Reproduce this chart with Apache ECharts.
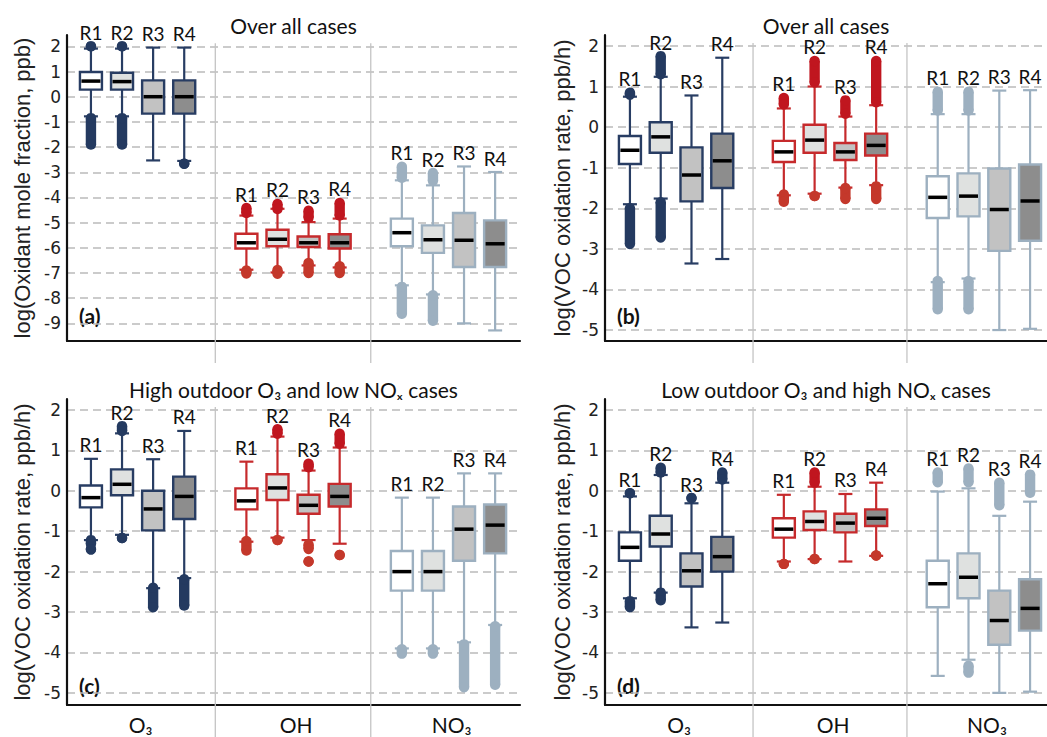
<!DOCTYPE html>
<html>
<head>
<meta charset="utf-8">
<title>Oxidant boxplots</title>
<script src="https://cdn.jsdelivr.net/npm/echarts@6/dist/echarts.min.js"></script>
<style>
  html, body { margin: 0; padding: 0; background: #fff; }
  #chart { width: 1047px; height: 737px; }
</style>
</head>
<body>
<div id="chart"></div>
<script>
// categories
const regimes = ['R1', 'R2', 'R3', 'R4']
const oxidants = ['O\u2083', 'OH', 'NO\u2083']
const yTicks = [-9, -8, -7, -6, -5, -4, -3, -2, -1, 0, 1, 2]

// box rows: [low whisker, Q1, median, Q3, high whisker]
// order: O3 R1..R4, OH R1..R4, NO3 R1..R4
const boxesA = [
  [-0.78, 0.28, 0.62, 0.98, 1.91], [-0.78, 0.28, 0.6, 0.95, 1.91], [-2.53, -0.67, 0, 0.65, 1.95], [-2.55, -0.67, 0, 0.65, 1.95],
  [-6.87, -6.03, -5.8, -5.44, -4.72], [-6.98, -5.94, -5.66, -5.28, -4.45], [-6.7, -5.97, -5.8, -5.55, -4.98], [-6.78, -6.03, -5.8, -5.46, -4.84],
  [-7.49, -5.94, -5.4, -4.84, -3.32], [-7.85, -6.2, -5.68, -5.11, -3.52], [-9.0, -6.76, -5.7, -4.62, -2.77], [-9.28, -6.76, -5.84, -4.91, -2.99]
]
const boxesB = [
  [-1.9, -0.91, -0.57, -0.22, 0.75], [-1.76, -0.63, -0.24, 0.12, 1.24], [-3.36, -1.83, -1.18, -0.5, 0.78], [-3.25, -1.5, -0.83, -0.16, 1.71],
  [-1.68, -0.86, -0.61, -0.34, 0.46], [-1.64, -0.63, -0.32, 0.06, 1.0], [-1.49, -0.81, -0.61, -0.39, 0.26], [-1.43, -0.7, -0.45, -0.16, 0.54],
  [-3.82, -2.24, -1.73, -1.21, 0.32], [-3.73, -2.2, -1.7, -1.14, 0.32], [-5.0, -3.05, -2.03, -1.02, 0.9], [-4.97, -2.8, -1.82, -0.92, 0.91]
]
const boxesC = [
  [-1.22, -0.41, -0.17, 0.13, 0.79], [-1.09, -0.11, 0.16, 0.53, 1.42], [-2.41, -0.98, -0.45, 0.0, 0.78], [-2.16, -0.7, -0.14, 0.35, 1.48],
  [-1.26, -0.46, -0.25, 0.06, 0.72], [-1.16, -0.23, 0.07, 0.41, 1.34], [-1.22, -0.57, -0.36, -0.1, 0.5], [-1.31, -0.39, -0.14, 0.17, 1.07],
  [-3.9, -2.47, -2.0, -1.49, -0.17], [-3.9, -2.47, -2.0, -1.49, -0.17], [-3.75, -1.73, -0.95, -0.39, 0.43], [-3.32, -1.55, -0.85, -0.34, 0.43]
]
const boxesD = [
  [-2.66, -1.73, -1.4, -1.03, -0.14], [-2.52, -1.38, -1.07, -0.62, 0.39], [-3.38, -2.37, -1.98, -1.55, -0.31], [-3.26, -2.0, -1.63, -1.14, 0.2],
  [-1.75, -1.16, -0.95, -0.68, -0.1], [-1.69, -0.97, -0.76, -0.51, 0.1], [-1.75, -1.03, -0.8, -0.57, -0.08], [-1.61, -0.87, -0.68, -0.46, 0.2],
  [-4.58, -2.88, -2.3, -1.73, -0.02], [-4.18, -2.66, -2.14, -1.55, 0.06], [-5.0, -3.81, -3.21, -2.47, -0.62], [-4.97, -3.46, -2.91, -2.19, -0.27]
]

// outlier spans per box: [from, to] (equal ends = single point)
const outA = [
  [[2.0, 2.0], [-0.85, -1.9]], [[2.0, 2.0], [-0.85, -1.9]], [], [[-2.66, -2.66]],
  [[-4.42, -4.62], [-6.9, -7.02]], [[-4.26, -4.46], [-6.88, -7.03]], [[-4.53, -4.8], [-6.6, -7.0]], [[-4.22, -4.72], [-6.73, -7.0]],
  [[-2.78, -3.22], [-7.55, -8.62]], [[-3.03, -3.34], [-7.88, -8.9]], [], []
]
const outB = [
  [[0.85, 0.8], [-2.0, -2.88]], [[1.75, 1.3], [-1.85, -2.72]], [], [],
  [[0.72, 0.56], [-1.66, -1.84]], [[1.63, 1.1], [-1.7, -1.7]], [[0.66, 0.33], [-1.5, -1.77]], [[1.63, 0.61], [-1.46, -1.77]],
  [[0.87, 0.41], [-3.79, -4.49]], [[0.87, 0.41], [-3.79, -4.49]], [], []
]
const outC = [
  [[-1.22, -1.32], [-1.45, -1.45]], [[1.6, 1.48], [-1.17, -1.17]], [[-2.4, -2.88]], [[-2.19, -2.84]],
  [[-1.24, -1.48]], [[1.52, 1.41], [-1.22, -1.22]], [[0.67, 0.58], [-1.33, -1.44], [-1.75, -1.75]], [[1.41, 1.16], [-1.59, -1.59]],
  [[-3.92, -4.03]], [[-3.92, -4.03]], [[-3.8, -4.86]], [[-3.35, -4.8]]
]
const outD = [
  [[-0.06, -0.06], [-2.73, -2.88]], [[0.57, 0.45], [-2.52, -2.71]], [[-0.18, -0.18]], [[0.45, 0.28]],
  [[-1.81, -1.81]], [[0.45, 0.2], [-1.69, -1.69]], [], [[-1.6, -1.6]],
  [[0.45, 0.21]], [[0.55, 0.21], [-4.33, -4.5]], [[0.2, -0.36]], [[0.4, -0.05]]
]

const titleA = 'Over all cases'
const titleB = 'Over all cases'
const titleC = 'High outdoor O\u2083 and low NO\u2093 cases'
const titleD = 'Low outdoor O\u2083 and high NO\u2093 cases'

// styling
const groupStroke = ['#283d63', '#c62a2c', '#9db0c0']
const outHigh = ['#243a60', '#c0161f', '#9db0c0']
const outLow = ['#243a60', '#c4382b', '#9db0c0']
const fills = ['#ffffff', '#dfe1e0', '#c2c2c2', '#8d8d8d']
const textFont = 'Lato, "DejaVu Sans", sans-serif'
const nameFont = '"Liberation Sans", Arial, sans-serif'
const tickFont = '"DejaVu Sans", sans-serif'

// box x position: four boxes per oxidant, one empty slot between groups
const xPos = i => Math.floor(i / 4) * 5 + (i % 4)

const panels = [
  { boxes: boxesA, outs: outA, title: titleA, letter: '(a)', name: 'log(Oxidant mole fraction, ppb)',
    grid: { left: 67, top: 35, width: 453, height: 306 }, x: [-0.77, 13.8], y: [-9.7, 2.45], gap: 34, sepExt: 22, groups: false },
  { boxes: boxesB, outs: outB, title: titleB, letter: '(b)', name: 'log(VOC oxidation rate, ppb/h)',
    grid: { left: 605, top: 35, width: 442, height: 306 }, x: [-0.81, 13.55], y: [-5.27, 2.27], gap: 32, sepExt: 22, groups: false },
  { boxes: boxesC, outs: outC, title: titleC, letter: '(c)', name: 'log(VOC oxidation rate, ppb/h)',
    grid: { left: 67, top: 399, width: 453, height: 306 }, x: [-0.77, 13.8], y: [-5.3, 2.27], gap: 34, sepExt: 34, groups: true },
  { boxes: boxesD, outs: outD, title: titleD, letter: '(d)', name: 'log(VOC oxidation rate, ppb/h)',
    grid: { left: 605, top: 399, width: 442, height: 306 }, x: [-0.81, 13.55], y: [-5.3, 2.27], gap: 32, sepExt: 34, groups: true }
]

function boxItem(params, api) {
  const x = api.value(0)
  const i = api.value(6)
  const g = Math.floor(i / 4)
  const r = i % 4
  const c = v => api.coord([x, v])
  const lo = c(api.value(1))
  const q1 = c(api.value(2))
  const md = c(api.value(3))
  const q3 = c(api.value(4))
  const hi = c(api.value(5))
  const top = c(api.value(7))
  const cx = lo[0]
  const bw = 22
  const cw = 14
  const stroke = groupStroke[g]
  const ln = (x1, y1, x2, y2, color, w) => ({
    type: 'line', shape: { x1, y1, x2, y2 }, style: { stroke: color, lineWidth: w }
  })
  return {
    type: 'group',
    children: [
      ln(cx, hi[1], cx, q3[1], stroke, 2.2),
      ln(cx, q1[1], cx, lo[1], stroke, 2.2),
      ln(cx - cw / 2, hi[1], cx + cw / 2, hi[1], stroke, 2.2),
      ln(cx - cw / 2, lo[1], cx + cw / 2, lo[1], stroke, 2.2),
      {
        type: 'rect',
        shape: { x: cx - bw / 2, y: q3[1], width: bw, height: q1[1] - q3[1] },
        style: { fill: fills[r], stroke: stroke, lineWidth: 2.4 }
      },
      ln(cx - bw / 2 + 1.5, md[1], cx + bw / 2 - 1.5, md[1], '#000', 3.5),
      {
        type: 'text', x: cx, y: top[1] - 14,
        style: { text: regimes[r], fill: '#111', font: '19px ' + textFont, align: 'center', verticalAlign: 'middle' }
      }
    ]
  }
}

function outItem(params, api) {
  const x = api.value(0)
  const i = api.value(3)
  const g = Math.floor(i / 4)
  const a = api.coord([x, api.value(1)])
  const b = api.coord([x, api.value(2)])
  const color = api.value(4) ? outHigh[g] : outLow[g]
  const rad = 5.2
  return {
    type: 'group',
    children: [
      { type: 'rect', shape: { x: a[0] - rad, y: Math.min(a[1], b[1]), width: rad * 2, height: Math.abs(b[1] - a[1]) }, style: { fill: color } },
      { type: 'circle', shape: { cx: a[0], cy: a[1], r: rad }, style: { fill: color } },
      { type: 'circle', shape: { cx: b[0], cy: b[1], r: rad }, style: { fill: color } }
    ]
  }
}

const grids = []
const xAxes = []
const yAxes = []
const series = []
const graphics = []

panels.forEach((p, k) => {
  grids.push(Object.assign({ outerBoundsMode: 'none', containLabel: false }, p.grid))
  xAxes.push({
    gridIndex: k, type: 'value', min: p.x[0], max: p.x[1],
    axisLine: { show: true, onZero: false, lineStyle: { color: '#111', width: 2.2 } },
    axisTick: { show: false }, axisLabel: { show: false }, splitLine: { show: false }
  })
  yAxes.push({
    gridIndex: k, type: 'value', min: p.y[0], max: p.y[1], minInterval: 1, maxInterval: 1,
    name: p.name, nameLocation: 'middle', nameGap: p.gap,
    nameTextStyle: { fontFamily: nameFont, fontSize: 22, color: '#222' },
    axisLine: { show: true, onZero: false, lineStyle: { color: '#111', width: 2.2 } },
    axisTick: { show: false },
    axisLabel: {
      showMinLabel: false, showMaxLabel: false, margin: 6,
      fontFamily: tickFont, fontSize: 17, color: '#222',
      formatter: v => (yTicks.indexOf(Math.round(v)) >= 0 ? String(Math.round(v)) : '')
    },
    splitLine: {
      show: true, showMinLine: false, showMaxLine: false,
      lineStyle: { type: [8, 5], color: '#bbbbbb', width: 1.7 }
    }
  })

  const boxData = p.boxes.map((b, i) => {
    let top = b[4]
    p.outs[i].forEach(s => { top = Math.max(top, s[0], s[1]) })
    return [xPos(i)].concat(b, [i, top])
  })
  const outData = []
  p.outs.forEach((spans, i) => {
    spans.forEach(s => outData.push([xPos(i), s[0], s[1], i, s[0] > p.boxes[i][2] ? 1 : 0]))
  })

  // oxidant separators
  series.push({
    type: 'custom', xAxisIndex: k, yAxisIndex: k, silent: true, clip: false,
    data: [[4], [9]],
    renderItem: (params, api) => {
      const t = api.coord([api.value(0), 2])
      const b = api.coord([api.value(0), p.y[0]])
      return {
        type: 'line', shape: { x1: t[0], y1: t[1] - 3, x2: b[0], y2: b[1] + p.sepExt },
        style: { stroke: '#c4c4c4', lineWidth: 1.3 }
      }
    }
  })
  series.push({
    type: 'custom', xAxisIndex: k, yAxisIndex: k, silent: true, clip: false,
    data: boxData, renderItem: boxItem
  })
  series.push({
    type: 'custom', xAxisIndex: k, yAxisIndex: k, silent: true, clip: false,
    data: outData, renderItem: outItem
  })
  if (p.groups) {
    series.push({
      type: 'custom', xAxisIndex: k, yAxisIndex: k, silent: true, clip: false,
      data: oxidants.map((o, g) => [g * 5 + 1.6, g]),
      renderItem: (params, api) => {
        const pt = api.coord([api.value(0), p.y[0]])
        return {
          type: 'text', x: pt[0], y: pt[1] + 19,
          style: { text: oxidants[api.value(1)], fill: '#111', font: '21px ' + textFont, align: 'center', verticalAlign: 'middle' }
        }
      }
    })
  }

  graphics.push({
    type: 'text', x: p.grid.left + p.grid.width / 2, y: p.grid.top - 10,
    style: { text: p.title, fill: '#111', font: '21px ' + textFont, align: 'center', verticalAlign: 'middle', textAlign: 'center', textVerticalAlign: 'middle' }
  })
  graphics.push({
    type: 'text', x: p.grid.left + 12, y: p.grid.top + p.grid.height - (k < 2 ? 26 : 20),
    style: { text: p.letter, fill: '#111', font: 'bold 21px ' + textFont, align: 'left', verticalAlign: 'middle', textAlign: 'left', textVerticalAlign: 'middle' }
  })
})

const chart = echarts.init(document.getElementById('chart'), null, { renderer: 'svg' })
chart.setOption({
  animation: false,
  backgroundColor: '#fff',
  grid: grids,
  xAxis: xAxes,
  yAxis: yAxes,
  series: series,
  graphic: graphics
})
</script>
</body>
</html>
